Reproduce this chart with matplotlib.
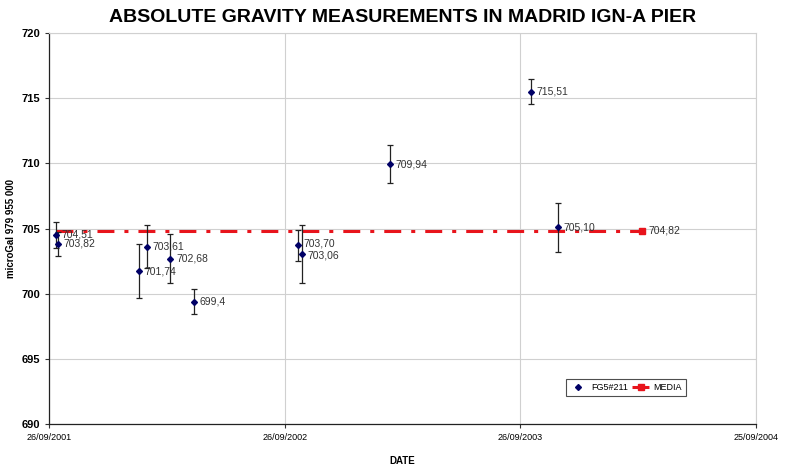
import matplotlib
matplotlib.use("Agg")
import matplotlib.pyplot as plt
import matplotlib.dates as mdates
import numpy as np
import datetime as dt

plt.rcParams['font.family'] = ['Liberation Sans', 'DejaVu Sans']
plt.rcParams['lines.scale_dashes'] = False

# FG5#211 measurements
dates = ['2001-10-06', '2001-10-10', '2002-02-12', '2002-02-25', '2002-04-02',
         '2002-05-09', '2002-10-17', '2002-10-22', '2003-03-08', '2003-10-12',
         '2003-11-23']
values = [704.51, 703.82, 701.74, 703.61, 702.68, 699.4, 703.70, 703.06,
          709.94, 715.51, 705.10]
errors = [1.0, 0.95, 2.05, 1.66, 1.87, 0.97, 1.22, 2.2, 1.47, 0.96, 1.88]
labels = ['704,51', '703,82', '701,74', '703,61', '702,68', '699,4', '703,70',
          '703,06', '709,94', '715,51', '705,10']

# mean line
media_dates = ['2001-10-06', '2004-04-01']
media_value = 704.82
media_label = '704,82'

xtick_dates = ['2001-09-26', '2002-09-26', '2003-09-26', '2004-09-25']
xtick_labels = ['26/09/2001', '26/09/2002', '26/09/2003', '25/09/2004']

def to_num(ds):
    return [mdates.date2num(dt.datetime.strptime(d, '%Y-%m-%d')) for d in ds]

x = to_num(dates)
xm = to_num(media_dates)
xt = to_num(xtick_dates)

fig = plt.figure(figsize=(7.91, 4.65), dpi=100)
ax = fig.add_axes([0.062, 0.088, 0.894, 0.841])

ax.errorbar(x, values, yerr=errors, fmt='none', ecolor='#222222',
            elinewidth=0.9, capsize=2.5, capthick=0.9, zorder=3)
ax.plot(x, values, linestyle='none', marker='D', markersize=3,
        color='#000066', label='FG5#211', zorder=4)
ax.plot(xm, [media_value, media_value], color='#e8141c', linewidth=2.2,
        linestyle=(0, (12.2, 7.2, 2.9, 7.2)), marker='s', markersize=4.5,
        markevery=[1], label='MEDIA', zorder=2)

for i, (xi, v, lab) in enumerate(zip(x, values, labels)):
    dy = 0
    if lab == '703,70':
        dy = 1.5
    if lab == '703,06':
        dy = -1.5
    ax.annotate(lab, (xi, v), xytext=(4, dy), textcoords='offset points',
                va='center', ha='left', fontsize=7.5, color='#333333', zorder=5)
ax.annotate(media_label, (xm[1], media_value), xytext=(5, 0),
            textcoords='offset points', va='center', ha='left',
            fontsize=7.5, color='#333333')

ax.set_xlim(xt[0], xt[-1])
ax.set_ylim(690, 720)
ax.set_xticks(xt)
ax.set_xticklabels(xtick_labels, fontsize=6.5)
ax.set_yticks(np.arange(690, 721, 5))
ax.set_yticklabels([str(v) for v in range(690, 721, 5)], fontsize=8,
                   fontweight='bold')
ax.tick_params(direction='out', length=3, width=0.8, color='#333333')

ax.grid(True, color='#d0d0d0', linewidth=0.8)
ax.set_axisbelow(True)
for s in ['top', 'right']:
    ax.spines[s].set_color('#d0d0d0')
for s in ['left', 'bottom']:
    ax.spines[s].set_color('#222222')
    ax.spines[s].set_linewidth(0.9)

ax.set_title('ABSOLUTE GRAVITY MEASUREMENTS IN MADRID IGN-A PIER',
             fontsize=14, fontweight='bold', pad=8)
ax.set_ylabel('microGal 979 955 000', fontsize=7, fontweight='bold',
              labelpad=4)
ax.set_xlabel('DATE', fontsize=7, fontweight='bold', labelpad=10)

leg = ax.legend(loc='lower left', bbox_to_anchor=(0.725, 0.06), ncol=2,
                fontsize=6.5, frameon=True, fancybox=False, handlelength=1.8,
                columnspacing=0.5, handletextpad=0.5, borderpad=0.45)
leg.get_frame().set_edgecolor('#222222')
leg.get_frame().set_linewidth(0.8)

fig.savefig('out.png', dpi=100, facecolor='white')
